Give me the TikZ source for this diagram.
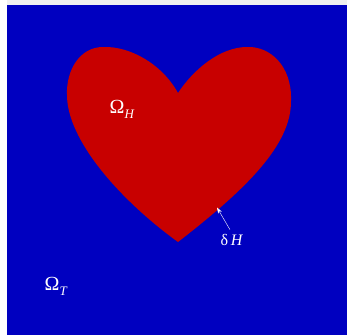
\documentclass[tikz,border=0pt]{standalone}
\usepackage{fontspec}
\setmainfont{Liberation Serif}
\usetikzlibrary{arrows.meta}
\definecolor{bgblue}{RGB}{0,0,192}
\definecolor{heartred}{RGB}{200,0,0}
\tikzset{lbl/.style={text=white,font=\fontsize{20}{20}\selectfont,inner sep=0pt,anchor=base west}}
\newcommand{\subit}[1]{\raisebox{-5pt}{\fontsize{13}{13}\selectfont\itshape #1}}
\begin{document}
\begin{tikzpicture}[x=1pt,y=-1pt]
\useasboundingbox (0,0) rectangle (347,335);
\fill[white] (0,0) rectangle (347,335);
\fill[gray!12] (7,0) rectangle (347,5);
\fill[bgblue] (7,5) rectangle (347,335);
\fill[heartred] (178,93)
  .. controls (162,64) and (130,46) .. (103,47)
  .. controls (80,47) and (66,70) .. (67,95)
  .. controls (67,140) and (120,200) .. (178,242)
  .. controls (245,190) and (292,145) .. (291,100)
  .. controls (292,66) and (270,46) .. (247,47)
  .. controls (220,47) and (193,70) .. (178,93)
  -- cycle;
\node[lbl] (oh) at (109.5,113) {Ω\subit{H}};
\node[lbl] (ot) at (44.5,290) {Ω\subit{T}};
\node[lbl,font=\fontsize{16}{16}\selectfont] (dh) at (220.5,245) {δ\,\textit{H}};
\coordinate (edge) at (217,207.5);
\draw[white,line width=0.4pt,-{Stealth[length=6pt,width=4pt]}] (dh.north) ++(-2,-4) -- (edge);
\end{tikzpicture}
\end{document}
